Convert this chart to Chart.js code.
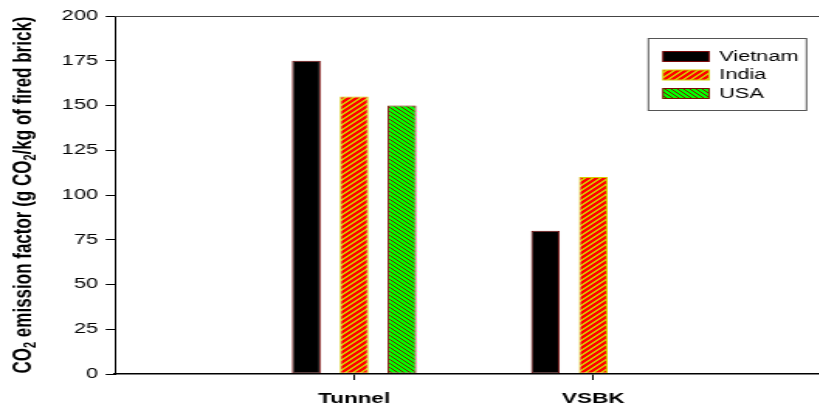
<!DOCTYPE html>
<html>
<head>
<meta charset="utf-8">
<script src="https://cdn.jsdelivr.net/npm/chart.js@4.4.1/dist/chart.umd.min.js"></script>
<style>
  html, body { margin: 0; padding: 0; background: #fff; overflow: hidden; width: 819px; height: 403px; }
  /* the plot is drawn narrow and widened, so text and marks come out stretched */
  #wrap { width: 537px; height: 403px; transform: scaleX(1.55); transform-origin: 0 0; }
</style>
</head>
<body>
<div id="wrap"><canvas id="chart" width="537" height="403"></canvas></div>
<script>
const CATEGORIES = ["Tunnel", "VSBK"];
const VIETNAM = [175, 80];
const INDIA = [155, 110];
const USA = [150, null];
const Y_TICKS = [0, 25, 50, 75, 100, 125, 150, 175, 200];
// axis title pieces: [text, isSubscript]
const Y_TITLE = [["CO", false], ["2", true], [" emission factor (g CO", false], ["2", true], ["/kg of fired brick)", false]];

const FAMILY = "'Liberation Sans', Arial, sans-serif";
const canvas = document.getElementById("chart");
const mainCtx = canvas.getContext("2d");

// square pixel hatch tile; "up" = "/" stripes, "down" = "\" stripes
function hatch(bg, fg, dir, size, thick) {
  const c = document.createElement("canvas");
  c.width = size;
  c.height = size;
  const g = c.getContext("2d");
  g.fillStyle = bg;
  g.fillRect(0, 0, size, size);
  g.fillStyle = fg;
  for (let r = 0; r < size; r++) {
    const x0 = dir === "up" ? size - 1 - r : r;
    for (let k = 0; k < thick; k++) g.fillRect((x0 + k) % size, r, 1, 1);
  }
  return mainCtx.createPattern(c, "repeat");
}

const toPoints = (arr) => arr.map((v, i) => ({ x: i + 1, y: v }));

const barCommon = {
  borderWidth: 1,
  borderSkipped: false,
  categoryPercentage: 0.6,
  barPercentage: 0.6,
};

// rotated y title with lowered subscripts
const yTitle = {
  id: "yTitle",
  afterDraw(chart) {
    const { ctx, chartArea } = chart;
    const big = `bold 17px ${FAMILY}`;
    const small = `bold 11px ${FAMILY}`;
    ctx.save();
    let total = 0;
    Y_TITLE.forEach(([t, sub]) => { ctx.font = sub ? small : big; total += ctx.measureText(t).width; });
    ctx.translate(14, (chartArea.top + chartArea.bottom) / 2);
    ctx.rotate(-Math.PI / 2);
    ctx.fillStyle = "#000";
    ctx.textBaseline = "alphabetic";
    let x = -total / 2;
    Y_TITLE.forEach(([t, sub]) => {
      ctx.font = sub ? small : big;
      ctx.fillText(t, x, sub ? 9 : 6);
      x += ctx.measureText(t).width;
    });
    ctx.restore();
  },
};

// top frame line plus the boxed legend
const frameAndLegend = {
  id: "frameAndLegend",
  afterDraw(chart) {
    const { ctx, chartArea } = chart;
    ctx.save();
    ctx.strokeStyle = "#444";
    ctx.lineWidth = 1;
    ctx.beginPath();
    ctx.moveTo(chartArea.left, chartArea.top + 0.5);
    ctx.lineTo(chartArea.right, chartArea.top + 0.5);
    ctx.stroke();

    const bx = 418.3, by = 38.5, bw = 102, bh = 72;
    ctx.strokeStyle = "#555";
    ctx.strokeRect(bx, by, bw, bh);

    ctx.font = `14px ${FAMILY}`;
    ctx.textBaseline = "middle";
    ctx.textAlign = "left";
    chart.data.datasets.forEach((ds, i) => {
      const cy = 56.5 + i * 18.5;
      ctx.fillStyle = ds.backgroundColor;
      ctx.fillRect(427.7, cy - 5, 29.7, 10);
      ctx.strokeStyle = ds.borderColor;
      ctx.strokeRect(427.7, cy - 5, 29.7, 10);
      ctx.fillStyle = "#000";
      ctx.fillText(ds.label, 464, cy + 0.5);
    });
    ctx.restore();
  },
};

new Chart(canvas, {
  type: "bar",
  data: {
    datasets: [
      { label: "Vietnam", data: toPoints(VIETNAM), backgroundColor: "#000", borderColor: "#7a0a0a", ...barCommon },
      { label: "India", data: toPoints(INDIA), backgroundColor: hatch("#ff0000", "#d6c000", "up", 5, 2), borderColor: "#d4cc00", ...barCommon },
      { label: "USA", data: toPoints(USA), backgroundColor: hatch("#00ff00", "#7a1a00", "down", 4, 1), borderColor: "#7a1000", ...barCommon },
    ],
  },
  options: {
    responsive: false,
    animation: false,
    events: [],
    layout: { padding: { top: 16, left: 0, right: 0, bottom: 0 } },
    plugins: { legend: { display: false }, tooltip: { enabled: false } },
    scales: {
      x: {
        type: "linear",
        min: 0,
        max: 3,
        offset: false,
        afterBuildTicks: (axis) => { axis.ticks = CATEGORIES.map((_, i) => ({ value: i + 1 })); },
        afterFit: (axis) => { axis.height = 29; },
        grid: { drawOnChartArea: false, offset: false, tickLength: 6, tickColor: "#000" },
        border: { color: "#000", width: 1.5, z: 1 },
        ticks: {
          color: "#000",
          padding: 10,
          maxRotation: 0,
          autoSkip: false,
          font: { size: 14.5, weight: "bold", family: FAMILY },
          callback: (v) => CATEGORIES[v - 1] ?? "",
        },
      },
      y: {
        min: 0,
        max: 200,
        afterBuildTicks: (axis) => { axis.ticks = Y_TICKS.map((v) => ({ value: v })); },
        afterFit: (axis) => { axis.width = 74.2; },
        grid: { drawOnChartArea: false, tickLength: 6, tickColor: "#000" },
        border: { color: "#000", width: 1, z: 1 },
        ticks: { color: "#000", padding: 5, font: { size: 14, family: FAMILY } },
      },
    },
  },
  plugins: [yTitle, frameAndLegend],
});
</script>
</body>
</html>
